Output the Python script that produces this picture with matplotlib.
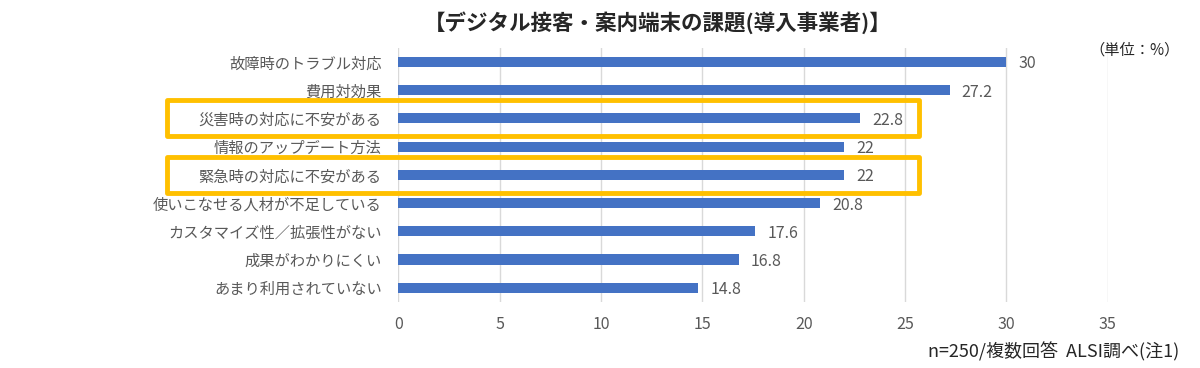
import matplotlib
matplotlib.use("Agg")
import matplotlib.pyplot as plt
from matplotlib.patches import Rectangle

plt.rcParams['font.family'] = ['Noto Sans CJK JP', 'DejaVu Sans']

# データ
categories = [
    "故障時のトラブル対応",
    "費用対効果",
    "災害時の対応に不安がある",
    "情報のアップデート方法",
    "緊急時の対応に不安がある",
    "使いこなせる人材が不足している",
    "カスタマイズ性／拡張性がない",
    "成果がわかりにくい",
    "あまり利用されていない",
]
values = [30, 27.2, 22.8, 22, 22, 20.8, 17.6, 16.8, 14.8]
highlighted = ["災害時の対応に不安がある", "緊急時の対応に不安がある"]
x_ticks = [0, 5, 10, 15, 20, 25, 30, 35]

bar_color = "#4472C4"
text_color = "#595959"
box_color = "#FFC000"

fig = plt.figure(figsize=(12, 3.68), dpi=100)
ax = fig.add_axes([0.332, 0.18, 0.591, 0.69])

y = list(range(len(categories)))
ax.barh(y, values, height=0.36, color=bar_color, zorder=3)
ax.set_ylim(len(categories) - 0.5, -0.5)
ax.set_xlim(0, 35)
ax.set_xticks(x_ticks)
ax.set_yticks(y)
ax.set_yticklabels(categories, fontsize=11, color=text_color)
ax.tick_params(axis='x', labelsize=11.5, labelcolor=text_color, length=0, pad=10)
ax.tick_params(axis='y', length=0, pad=12)
ax.grid(axis='x', color="#D9D9D9", linewidth=1, zorder=0)
for s in ax.spines.values():
    s.set_visible(False)

for yi, v in zip(y, values):
    ax.text(v + 0.6, yi, f"{v:g}", va='center_baseline', ha='left', fontsize=11.5, color=text_color)

# 強調枠
for name in highlighted:
    yi = categories.index(name)
    top = ax.transData.transform((0, yi - 0.64))
    bot = ax.transData.transform((0, yi + 0.64))
    fy0 = fig.transFigure.inverted().transform((0, bot[1]))[1]
    fy1 = fig.transFigure.inverted().transform((0, top[1]))[1]
    rect = Rectangle((0.139, fy0), 0.627, fy1 - fy0, transform=fig.transFigure,
                     fill=False, edgecolor=box_color, linewidth=3.5, zorder=10,
                     joinstyle='round')
    fig.add_artist(rect)

fig.text(0.548, 0.94, "【デジタル接客・案内端末の課題(導入事業者)】", ha='center', va='center',
         fontsize=15.5, fontweight='bold', color="#262626")
fig.text(0.983, 0.865, "（単位：%）", ha='right', va='center', fontsize=11, color="#262626")
fig.text(0.983, 0.045, "n=250/複数回答  ALSI調べ(注1)", ha='right', va='center',
         fontsize=13, color="#262626")

fig.savefig("out.png", dpi=100)
